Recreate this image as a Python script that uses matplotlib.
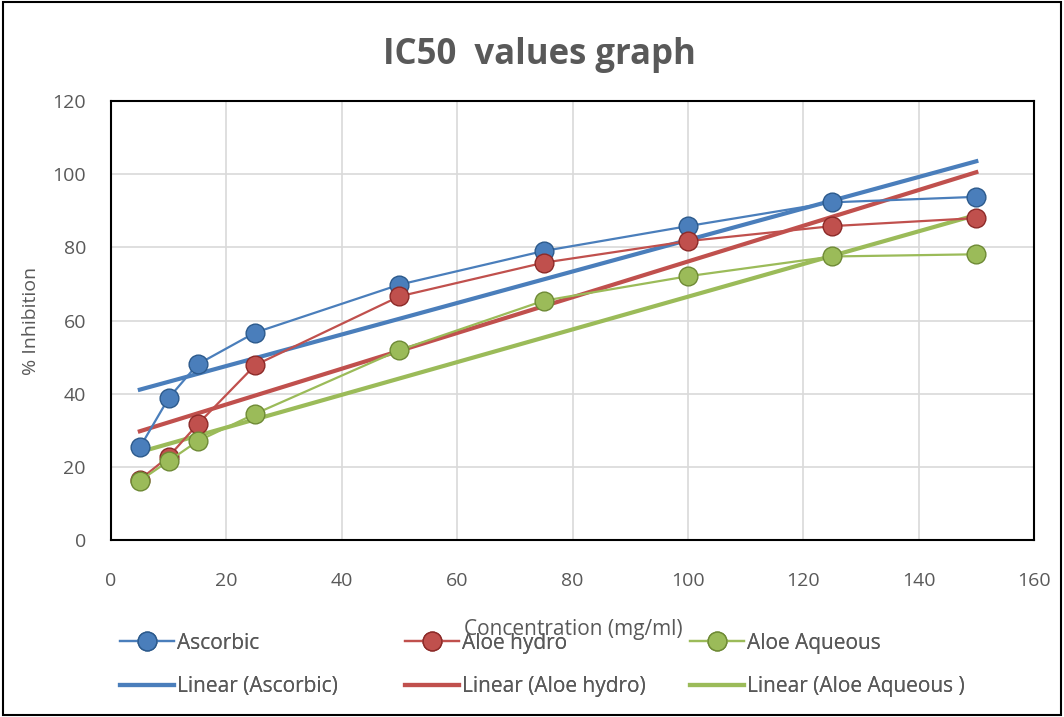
import numpy as np
import matplotlib.pyplot as plt
from matplotlib.patches import Rectangle

# data
conc = [5, 10, 15, 25, 50, 75, 100, 125, 150]
ascorbic = [25.3, 38.8, 48.0, 56.7, 69.8, 79.0, 85.8, 92.3, 93.8]
aloe_hydro = [16.5, 22.8, 31.6, 47.8, 66.6, 75.8, 81.7, 85.8, 88.0]
aloe_aqueous = [16.2, 21.6, 27.0, 34.5, 51.9, 65.4, 72.1, 77.5, 78.1]

names = ["Ascorbic", "Aloe hydro", "Aloe Aqueous"]
trend_names = ["Linear (Ascorbic)", "Linear (Aloe hydro)", "Linear (Aloe Aqueous )"]
colors = ["#4A7EBB", "#C0504D", "#9BBB59"]
edges = ["#2C5A8C", "#8C2A28", "#6E8A35"]
legend_x = [120, 405, 690]

plt.rcParams["font.family"] = ["Open Sans", "DejaVu Sans"]
txt = "#595959"

W, H = 1064, 717
fig = plt.figure(figsize=(W / 100, H / 100), dpi=100)
ax = fig.add_axes([111 / W, 1 - 540 / H, 923 / W, 439 / H])

x = np.array(conc, dtype=float)
series = [ascorbic, aloe_hydro, aloe_aqueous]
handles = []
for ys, c, e, n in zip(series, colors, edges, names):
    h, = ax.plot(x, ys, color=c, lw=1.6, marker="o", ms=13.5,
                 markerfacecolor=c, markeredgecolor=e, markeredgewidth=1,
                 label=n, zorder=4)
    handles.append(h)

trend_handles = []
for ys, c, n in zip(series, colors, trend_names):
    k, b = np.polyfit(x, ys, 1)
    h, = ax.plot([x.min(), x.max()], [k * x.min() + b, k * x.max() + b],
                 color=c, lw=3, label=n, zorder=3)
    trend_handles.append(h)

ax.set_xlim(0, 160)
ax.set_ylim(0, 120)
ax.set_xticks(range(0, 161, 20))
ax.set_yticks(range(0, 121, 20))
ax.grid(True, color="#D9D9D9", lw=1.2)
ax.set_axisbelow(True)
for s in ax.spines.values():
    s.set_color("black")
    s.set_linewidth(1.5)
ax.tick_params(length=0, labelsize=14, colors=txt)
ax.tick_params(axis="x", pad=23)
ax.tick_params(axis="y", pad=18)

ax.set_ylabel("% Inhibition", fontsize=14, color=txt, labelpad=9)
fig.text(573 / W, 1 - 630 / H, "Concentration (mg/ml)", fontsize=15, color=txt,
         ha="center", va="center")

fig.text(539 / W, 1 - 55 / H, "IC50  values graph", fontsize=25, fontweight="bold",
         color=txt, ha="center", va="center")

for i in range(3):
    leg = fig.legend(handles=[handles[i], trend_handles[i]], loc="center left",
                     bbox_to_anchor=(legend_x[i] / W, 1 - 665 / H),
                     frameon=False, fontsize=15, labelcolor=txt, handlelength=2.6,
                     labelspacing=1.1, handletextpad=0.15, borderpad=0,
                     borderaxespad=0)
    fig.add_artist(leg)

fig.patches.append(Rectangle((0.003, 0.003), 0.994, 0.994, transform=fig.transFigure,
                             fill=False, edgecolor="black", lw=1.5))

fig.savefig("out.png", dpi=100)
